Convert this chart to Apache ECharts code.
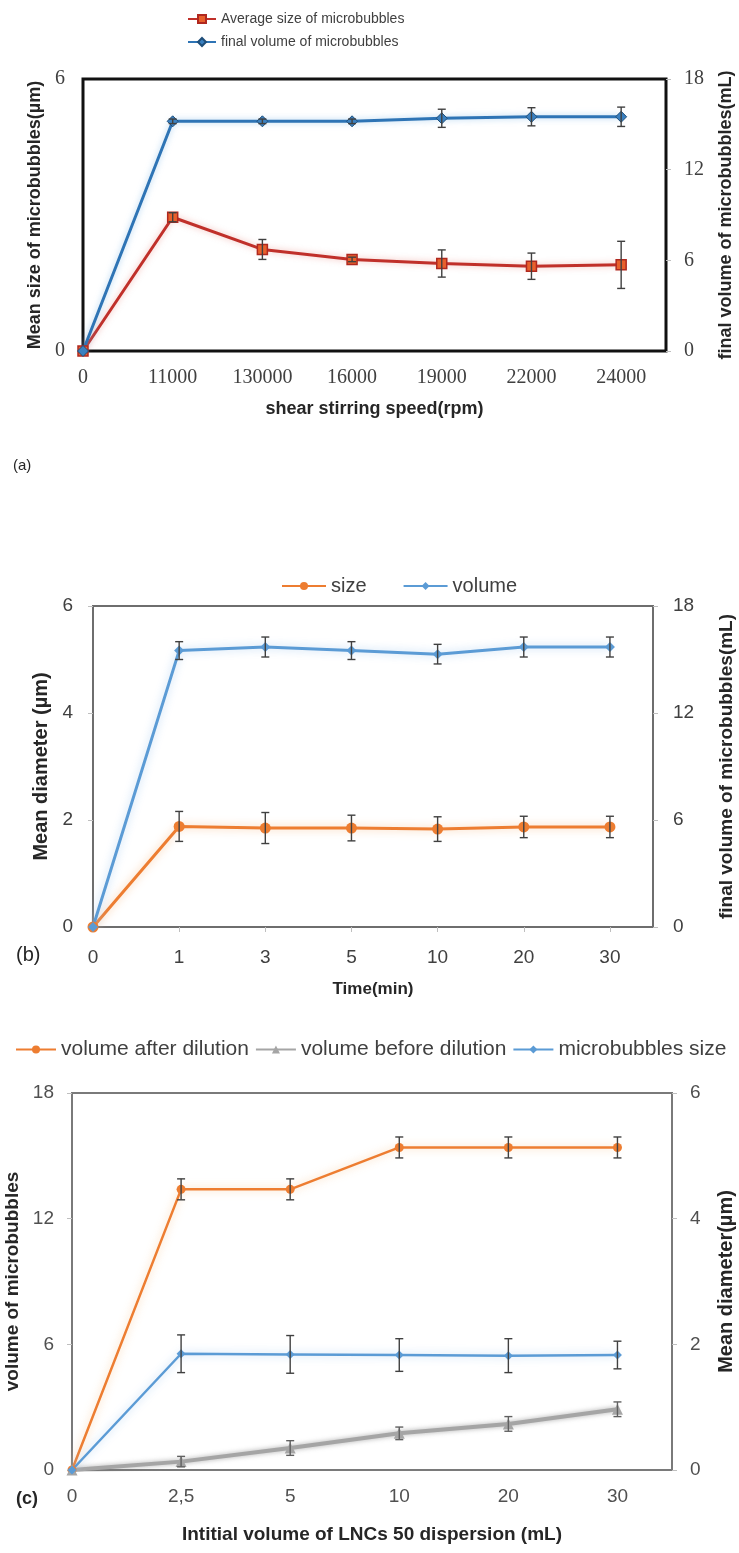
<!DOCTYPE html>
<html><head><meta charset="utf-8">
<script src="https://cdn.jsdelivr.net/npm/echarts@6/dist/echarts.min.js"></script>
<style>html,body{margin:0;padding:0;background:#fff}#c{width:739px;height:1553px}</style>
</head><body><div id="c"></div>
<script>
// ---- Panel (a) ----
const aCats = ['0','11000','130000','16000','19000','22000','24000'];
const aSize = [0, 2.95, 2.24, 2.02, 1.93, 1.87, 1.90];
const aSizeErr = [0, 0.1, 0.22, 0.05, 0.3, 0.29, 0.52];
const aVol = [0, 15.2, 15.2, 15.2, 15.4, 15.5, 15.5];
const aVolErr = [0, 0.15, 0.15, 0.15, 0.6, 0.6, 0.64];
// ---- Panel (b) ----
const bCats = ['0','1','3','5','10','20','30'];
const bSize = [0, 1.88, 1.85, 1.85, 1.83, 1.87, 1.87];
const bSizeErr = [0, 0.28, 0.29, 0.24, 0.23, 0.2, 0.2];
const bVol = [0, 15.5, 15.7, 15.5, 15.3, 15.7, 15.7];
const bVolErr = [0, 0.5, 0.56, 0.5, 0.55, 0.56, 0.56];
// ---- Panel (c) ----
const cCats = ['0','2,5','5','10','20','30'];
const cAfter = [0, 13.4, 13.4, 15.4, 15.4, 15.4];
const cAfterErr = [0, 0.5, 0.5, 0.5, 0.5, 0.5];
const cBefore = [0, 0.4, 1.05, 1.75, 2.2, 2.9];
const cBeforeErr = [0, 0.25, 0.35, 0.3, 0.35, 0.35];
const cBubble = [0, 1.85, 1.84, 1.83, 1.82, 1.83];
const cBubbleErr = [0, 0.3, 0.3, 0.26, 0.27, 0.22];

const SANS = "'Liberation Sans', Arial, sans-serif";
const SERIF = "'Liberation Serif', 'Times New Roman', serif";

function pts(vals){ return vals.map((v,i)=>[i,v]); }
function errSeries(xi, yi, vals, errs, color){
  return {
    type:'custom', xAxisIndex:xi, yAxisIndex:yi, z:6, silent:true,
    data: vals.map((v,i)=>[i, v-errs[i], v+errs[i], errs[i]]).filter(d=>d[3]>0),
    renderItem:(params, api)=>{
      const x = api.value(0);
      const lo = api.coord([x, api.value(1)]);
      const hi = api.coord([x, api.value(2)]);
      const w = 4;
      const st = {stroke:color, lineWidth:1.4};
      return {type:'group', children:[
        {type:'line', shape:{x1:lo[0],y1:lo[1],x2:hi[0],y2:hi[1]}, style:st},
        {type:'line', shape:{x1:lo[0]-w,y1:lo[1],x2:lo[0]+w,y2:lo[1]}, style:st},
        {type:'line', shape:{x1:hi[0]-w,y1:hi[1],x2:hi[0]+w,y2:hi[1]}, style:st}
      ]};
    }
  };
}
function idxAxis(gi, cats, labelStyle, margin, name, nameGap, nameSize, tick){
  const n = cats.length;
  return {
    type:'value', gridIndex:gi, min:0, max:n-0.5, interval:1,
    axisLine:{show:false}, splitLine:{show:false},
    axisTick:{show:!!tick, length:5, lineStyle:{color:'#bfbfbf'}, customValues:cats.map((c,i)=>i)},
    axisLabel:Object.assign({customValues:cats.map((c,i)=>i), margin:margin,
      formatter:v=> (Number.isInteger(v) && v < n) ? cats[v] : ''}, labelStyle),
    name:name, nameLocation:'middle', nameGap:nameGap,
    nameTextStyle:{fontFamily:SANS, fontWeight:'bold', fontSize:nameSize, color:'#262626'}
  };
}
function yAx(gi, pos, max, interval, labelStyle, margin, name, nameGap, nameSize, tickShow){
  return {
    type:'value', gridIndex:gi, position:pos, min:0, max:max, interval:interval,
    axisLine:{show:false}, splitLine:{show:false},
    axisTick:{show:tickShow, length:5, lineStyle:{color:'#bfbfbf'}},
    axisLabel:Object.assign({margin:margin}, labelStyle),
    name:name, nameLocation:'middle', nameGap:nameGap, nameRotate:90,
    nameTextStyle:{fontFamily:SANS, fontWeight:'bold', fontSize:nameSize, color:'#262626'}
  };
}
const aLab = {fontFamily:SERIF, fontSize:20, color:'#404040'};
const bLab = {fontFamily:SANS, fontSize:19, color:'#404040'};
const cLab = {fontFamily:SANS, fontSize:19, color:'#505050'};

const option = {
  animation:false,
  backgroundColor:'#fff',
  grid:[
    {left:83, width:583, top:79, height:272, show:true, borderColor:'#111', borderWidth:3, backgroundColor:'transparent', containLabel:false, outerBoundsMode:'none'},
    {left:93, width:560, top:606, height:321, show:true, borderColor:'#6e6e6e', borderWidth:2, backgroundColor:'transparent', containLabel:false, outerBoundsMode:'none'},
    {left:72, width:600, top:1093, height:377, show:true, borderColor:'#7a7a7a', borderWidth:2, backgroundColor:'transparent', containLabel:false, outerBoundsMode:'none'}
  ],
  xAxis:[
    idxAxis(0, aCats, aLab, 17, 'shear stirring speed(rpm)', 49, 18, false),
    idxAxis(1, bCats, bLab, 21, 'Time(min)', 54, 17, true),
    idxAxis(2, cCats, cLab, 17, 'Intitial volume of LNCs 50 dispersion (mL)', 55, 19, false)
  ],
  yAxis:[
    yAx(0, 'left', 6, 6, aLab, 18, 'Mean size of microbubbles(µm)', 39, 18, false),
    yAx(0, 'right', 18, 6, aLab, 18, 'final volume of microbubbles(mL)', 51, 18, true),
    yAx(1, 'left', 6, 2, bLab, 20, 'Mean diameter (µm)', 42, 20, true),
    yAx(1, 'right', 18, 6, bLab, 20, 'final volume of microbubbles(mL)', 64, 19, true),
    yAx(2, 'left', 18, 6, cLab, 18, 'volume of microbubbles', 49, 19, true),
    yAx(2, 'right', 6, 2, cLab, 18, 'Mean diameter(µm)', 44, 20, true)
  ],
  legend:[
    {orient:'vertical', left:182, top:7, itemGap:9, itemWidth:28, itemHeight:10,
     textStyle:{fontFamily:SANS, fontSize:14, color:'#404040'},
     data:['Average size of microbubbles','final volume of microbubbles']},
    {orient:'horizontal', left:276, top:571, itemGap:36, itemWidth:44, itemHeight:10,
     textStyle:{fontFamily:SANS, fontSize:20, color:'#404040'},
     data:['size','volume']},
    {orient:'horizontal', left:10, top:1034, itemGap:6, itemWidth:40, itemHeight:10,
     textStyle:{fontFamily:SANS, fontSize:21, color:'#404040'},
     data:['volume after dilution','volume before dilution','microbubbles size']}
  ],
  graphic:[
    {type:'text', left:13, top:458, style:{text:'(a)', fontFamily:SANS, fontSize:15, fill:'#262626'}},
    {type:'text', left:16, top:945, style:{text:'(b)', fontFamily:SANS, fontSize:20, fill:'#262626'}},
    {type:'text', left:16, top:1490, style:{text:'(c)', fontFamily:SANS, fontSize:18, fontWeight:'bold', fill:'#262626'}}
  ],
  series:[
    // (a)
    {name:'Average size of microbubbles', type:'line', xAxisIndex:0, yAxisIndex:0, data:pts(aSize),
     symbol:'rect', symbolSize:10, z:4,
     lineStyle:{color:'#C0302A', width:3, shadowColor:'rgba(230,120,110,0.5)', shadowBlur:6},
     itemStyle:{color:'#E8602C', borderColor:'#B0281F', borderWidth:1.5}},
    {name:'final volume of microbubbles', type:'line', xAxisIndex:0, yAxisIndex:1, data:pts(aVol),
     symbol:'diamond', symbolSize:11, z:4,
     lineStyle:{color:'#2E74B5', width:3, shadowColor:'rgba(120,180,230,0.6)', shadowBlur:6},
     itemStyle:{color:'#3A80C0', borderColor:'#1F4E79', borderWidth:1}},
    errSeries(0, 0, aSize, aSizeErr, '#404040'),
    errSeries(0, 1, aVol, aVolErr, '#404040'),
    // (b)
    {name:'size', type:'line', xAxisIndex:1, yAxisIndex:2, data:pts(bSize),
     symbol:'circle', symbolSize:11, z:4,
     lineStyle:{color:'#ED7D31', width:3, shadowColor:'rgba(248,190,140,0.8)', shadowBlur:8},
     itemStyle:{color:'#ED7D31'}},
    {name:'volume', type:'line', xAxisIndex:1, yAxisIndex:3, data:pts(bVol),
     symbol:'diamond', symbolSize:10, z:4,
     lineStyle:{color:'#5B9BD5', width:3, shadowColor:'rgba(170,205,240,0.8)', shadowBlur:8},
     itemStyle:{color:'#5B9BD5'}},
    errSeries(1, 2, bSize, bSizeErr, '#404040'),
    errSeries(1, 3, bVol, bVolErr, '#404040'),
    // (c)
    {name:'volume after dilution', type:'line', xAxisIndex:2, yAxisIndex:4, data:pts(cAfter),
     symbol:'circle', symbolSize:9, z:4,
     lineStyle:{color:'#ED7D31', width:2.5, shadowColor:'rgba(248,200,150,0.8)', shadowBlur:8},
     itemStyle:{color:'#ED7D31'}},
    {name:'volume before dilution', type:'line', xAxisIndex:2, yAxisIndex:4, data:pts(cBefore),
     symbol:'triangle', symbolSize:11, z:4,
     lineStyle:{color:'#A5A5A5', width:4, shadowColor:'rgba(120,120,120,0.6)', shadowBlur:5},
     itemStyle:{color:'#A5A5A5'}},
    {name:'microbubbles size', type:'line', xAxisIndex:2, yAxisIndex:5, data:pts(cBubble),
     symbol:'diamond', symbolSize:9, z:4,
     lineStyle:{color:'#5B9BD5', width:2.5, shadowColor:'rgba(170,205,240,0.8)', shadowBlur:8},
     itemStyle:{color:'#5B9BD5'}},
    errSeries(2, 4, cAfter, cAfterErr, '#404040'),
    errSeries(2, 4, cBefore, cBeforeErr, '#606060'),
    errSeries(2, 5, cBubble, cBubbleErr, '#404040')
  ]
};
const chart = echarts.init(document.getElementById('c'));
chart.setOption(option);
</script>
</body></html>
